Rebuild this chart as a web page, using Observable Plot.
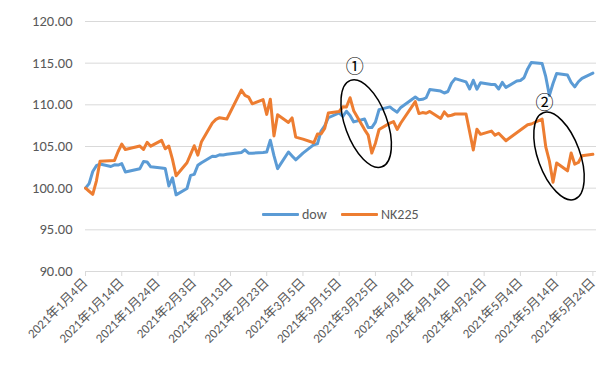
<!DOCTYPE html>
<html><head><meta charset="utf-8">
<script src="https://cdn.jsdelivr.net/npm/d3@7"></script>
<script src="https://cdn.jsdelivr.net/npm/@observablehq/plot@0.6"></script>
<style>
body{margin:0;background:#fff;}
#chart{position:relative;width:610px;height:365px;font-family:Carlito,"Liberation Sans","Noto Sans CJK JP",sans-serif;}
#legend{position:absolute;left:0;top:205px;width:610px;height:20px;font-size:14px;color:#595959;}
#legend .item{position:absolute;top:0;display:flex;align-items:center;height:18px;}
#legend .sw{display:inline-block;width:37px;height:3px;margin-right:3px;border-radius:1px;}
</style></head><body><div id="chart"></div>
<script>
const dates = [
"2021-01-04","2021-01-05","2021-01-06","2021-01-07","2021-01-08","2021-01-11","2021-01-12","2021-01-13","2021-01-14","2021-01-15","2021-01-19","2021-01-20","2021-01-21","2021-01-22","2021-01-25","2021-01-26","2021-01-27","2021-01-28","2021-01-29",
"2021-02-01","2021-02-02","2021-02-03","2021-02-04","2021-02-05","2021-02-08","2021-02-09","2021-02-10","2021-02-11","2021-02-12","2021-02-16","2021-02-17","2021-02-18","2021-02-19","2021-02-22","2021-02-23","2021-02-24","2021-02-25","2021-02-26",
"2021-03-01","2021-03-02","2021-03-03","2021-03-05","2021-03-08","2021-03-09","2021-03-10","2021-03-11","2021-03-12","2021-03-15","2021-03-16","2021-03-17","2021-03-18","2021-03-19","2021-03-22","2021-03-23","2021-03-24","2021-03-25","2021-03-26","2021-03-29","2021-03-30","2021-03-31",
"2021-04-01","2021-04-05","2021-04-06","2021-04-07","2021-04-08","2021-04-09","2021-04-12","2021-04-13","2021-04-14","2021-04-15","2021-04-16","2021-04-19","2021-04-20","2021-04-21","2021-04-22","2021-04-23","2021-04-26","2021-04-27","2021-04-28","2021-04-29","2021-04-30",
"2021-05-03","2021-05-04","2021-05-05","2021-05-06","2021-05-07","2021-05-10","2021-05-11","2021-05-12","2021-05-13","2021-05-14","2021-05-17","2021-05-18","2021-05-19","2021-05-20","2021-05-21","2021-05-24"];
const dow = [
100.00,100.55,102.00,102.70,102.89,102.60,102.80,102.77,102.94,101.95,102.34,103.19,103.14,102.56,102.43,102.36,100.26,101.25,99.20,
99.96,101.53,101.65,102.75,103.06,103.84,103.81,104.01,103.99,104.08,104.29,104.60,104.20,104.20,104.29,104.34,105.75,103.90,102.34,
104.34,103.86,103.40,104.21,105.22,105.32,106.86,107.48,108.45,109.03,108.61,109.23,108.73,107.95,108.30,107.28,107.27,107.92,109.42,109.75,109.40,109.12,
109.69,110.93,110.61,110.66,110.85,111.83,111.65,111.42,111.60,112.61,113.15,112.75,111.90,112.95,111.88,112.64,112.43,112.44,111.90,112.69,112.08,
112.87,112.93,113.25,114.31,115.07,114.95,113.38,111.13,112.56,113.76,113.57,112.69,112.15,112.77,113.18,113.80];
const nk225 = [
100.00,99.63,99.26,100.85,103.23,null,103.33,104.40,105.29,104.63,105.05,104.64,105.50,105.04,105.74,104.73,105.05,103.45,101.49,
103.05,104.05,105.09,103.97,105.58,107.82,108.25,108.46,null,108.30,111.77,111.13,110.93,110.12,110.63,108.85,110.68,106.27,108.82,
107.89,108.44,106.13,105.89,105.45,106.49,106.52,107.17,109.02,109.20,109.77,109.74,110.85,109.30,107.03,106.37,104.21,105.40,107.04,107.80,107.98,107.05,
107.82,110.39,108.95,109.07,108.99,109.21,108.37,109.15,108.67,108.75,108.90,108.90,106.76,104.59,107.08,106.46,106.85,106.36,106.59,null,105.70,
null,null,null,107.61,107.70,108.29,104.95,103.26,100.70,103.03,102.08,104.21,102.88,103.08,103.89,104.06];
const seriesNames = ["dow","NK225"];
const seriesColors = ["#5B9BD5","#ED7D31"];
const yTicks = [90,95,100,105,110,115,120];
const xTickDates = ["2021-01-04","2021-01-14","2021-01-24","2021-02-03","2021-02-13","2021-02-23","2021-03-05","2021-03-15","2021-03-25","2021-04-04","2021-04-14","2021-04-24","2021-05-04","2021-05-14","2021-05-24"];
const xDomain = ["2021-01-04","2021-05-25"];
const annotations = [
  {label:"①", center:["2021-03-22T14:00Z",107.69], labelAt:["2021-03-19T10:00Z",114.49]},
  {label:"②", center:["2021-05-14T19:00Z",103.80], labelAt:["2021-05-10T19:00Z",110.20]}
];

const parse = s => new Date(s.length === 10 ? s + "T00:00Z" : s);
const rows = [];
dates.forEach((d,i)=>{
  if (dow[i] != null) rows.push({date: parse(d), value: dow[i], series: seriesNames[0]});
});
dates.forEach((d,i)=>{
  if (nk225[i] != null) rows.push({date: parse(d), value: nk225[i], series: seriesNames[1]});
});
const fmtDate = d => `${d.getUTCFullYear()}年${d.getUTCMonth()+1}月${d.getUTCDate()}日`;

const plot = Plot.plot({
  width: 610, height: 365,
  marginLeft: 85, marginRight: 14, marginTop: 21, marginBottom: 94,
  style: {fontFamily: 'Carlito,"Liberation Sans","Noto Sans CJK JP",sans-serif', background: "#fff"},
  x: {type: "utc", domain: xDomain.map(parse)},
  y: {domain: [90,120]},
  color: {domain: seriesNames, range: seriesColors},
  marks: [
    Plot.gridY(yTicks, {stroke: "#d9d9d9", strokeOpacity: 1, strokeWidth: 1}),
    Plot.axisY(yTicks, {tickSize: 0, tickPadding: 13, tickFormat: d => d.toFixed(2), fontSize: 14.5, fill: "#595959", label: null}),
    Plot.axisX(xTickDates.map(parse), {tickSize: 5, tickPadding: 4, tickRotate: -45, tickFormat: fmtDate, fontSize: 13, fill: "#595959", stroke: "#d9d9d9", label: null}),
    Plot.line(rows, {x: "date", y: "value", z: "series", stroke: "series", strokeWidth: 3, strokeLinejoin: "round", strokeLinecap: "round"})
  ]
});
const chart = document.getElementById("chart");
chart.appendChild(plot);

const xs = plot.scale("x"), ys = plot.scale("y");
const svg = d3.select(plot);
const g = svg.append("g");
annotations.forEach(a => {
  const cx = xs.apply(parse(a.center[0])), cy = ys.apply(a.center[1]);
  g.append("ellipse").attr("cx", 0).attr("cy", 0).attr("rx", 46).attr("ry", 21)
    .attr("transform", `translate(${cx},${cy}) rotate(70)`)
    .attr("fill", "none").attr("stroke", "#000").attr("stroke-width", 1.5);
  const lx = xs.apply(parse(a.labelAt[0])), ly = ys.apply(a.labelAt[1]);
  g.append("text").attr("x", lx).attr("y", ly).attr("dy", "0.35em")
    .attr("text-anchor", "middle").attr("font-size", 18)
    .attr("font-family", '"Noto Sans CJK JP",sans-serif').attr("fill", "#000").text(a.label);
});

const legend = document.createElement("div");
legend.id = "legend";
const legendX = [262, 341];
seriesNames.forEach((n,i) => {
  const it = document.createElement("div");
  it.className = "item";
  it.style.left = legendX[i] + "px";
  it.innerHTML = `<span class="sw" style="background:${seriesColors[i]}"></span><span>${n}</span>`;
  legend.appendChild(it);
});
chart.appendChild(legend);
</script></body></html>
